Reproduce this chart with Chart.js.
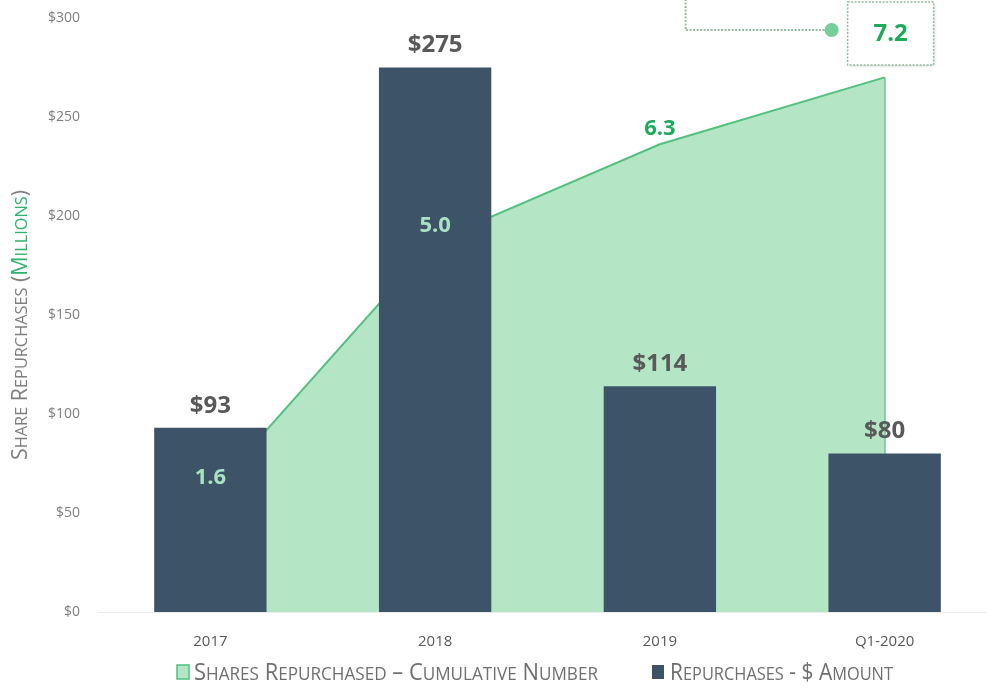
<!DOCTYPE html>
<html>
<head>
<meta charset="utf-8">
<script src="https://cdn.jsdelivr.net/npm/chart.js@4.4.1/dist/chart.umd.min.js"></script>
<style>
  html, body { margin: 0; padding: 0; background: #fff; overflow: hidden; }
  #wrap { width: 1000px; height: 688px; }
</style>
</head>
<body>
<div id="wrap"><canvas id="dataChart"></canvas></div>
<script>
const categories = ['2017', '2018', '2019', 'Q1-2020'];
const repurchaseAmounts = [93, 275, 114, 80];
const cumulativeShares = [1.6, 5.0, 6.3, 7.2];
const amountTicks = [0, 50, 100, 150, 200, 250, 300];

const BAR_COLOR = '#3d5468';
const AREA_FILL = '#b4e6c6';
const AREA_LINE = '#52c07f';
const GREEN_TEXT = '#1fa95b';
const GRAY_TEXT = '#595959';
const FONT = '"Open Sans", sans-serif';

// draws fake small caps, squeezed horizontally to a width
const drawSmallCaps = (ctx, parts, x, y, big, small, targetWidth) => {
    let pieces = [];
    parts.forEach(([text, color]) => {
        for (const ch of text) {
            const lower = ch !== ch.toUpperCase();
            pieces.push({ ch: ch.toUpperCase(), size: lower ? small : big, color: color });
        }
    });
    let total = 0;
    pieces.forEach(p => {
        ctx.font = p.size + 'px ' + FONT;
        p.w = ctx.measureText(p.ch).width;
        total += p.w;
    });
    const sx = targetWidth ? targetWidth / total : 1;
    ctx.save();
    ctx.translate(x, y);
    ctx.scale(sx, 1);
    ctx.textAlign = 'left';
    ctx.textBaseline = 'alphabetic';
    let cx = 0;
    pieces.forEach(p => {
        ctx.font = p.size + 'px ' + FONT;
        ctx.fillStyle = p.color;
        ctx.fillText(p.ch, cx, 0);
        cx += p.w;
    });
    ctx.restore();
};

const labelsPlugin = {
    id: 'labelsPlugin',
    afterDatasetsDraw(chart) {
        const ctx = chart.ctx;
        const bars = chart.getDatasetMeta(0).data;
        const pts = chart.getDatasetMeta(1).data;

        ctx.save();
        ctx.textAlign = 'center';
        ctx.textBaseline = 'middle';

        // $ amounts above bars
        ctx.font = 'bold 24px ' + FONT;
        ctx.fillStyle = GRAY_TEXT;
        bars.forEach((b, i) => {
            ctx.fillText('$' + repurchaseAmounts[i], b.x, b.y - 22);
        });

        // cumulative share numbers
        ctx.font = 'bold 22px ' + FONT;
        for (let i = 0; i < cumulativeShares.length - 1; i++) {
            const p = pts[i];
            const insideBar = p.y > bars[i].y;
            ctx.fillStyle = insideBar ? '#a9e2c0' : GREEN_TEXT;
            ctx.fillText(cumulativeShares[i].toFixed(1), p.x, p.y - 15);
        }

        // callout for the last value
        const last = pts[pts.length - 1];
        const bx = last.x - 37, by = 2, bw = 86, bh = 63;
        ctx.setLineDash([2, 1.5]);
        ctx.lineWidth = 2;
        ctx.strokeStyle = '#93bb9f';
        ctx.beginPath();
        ctx.moveTo(last.x - 53, by + 28);
        ctx.lineTo(last.x - 199, by + 28);
        ctx.lineTo(last.x - 199, -5);
        ctx.stroke();

        ctx.shadowColor = 'rgba(0,0,0,0.18)';
        ctx.shadowBlur = 3;
        ctx.shadowOffsetX = 1;
        ctx.shadowOffsetY = 1;
        ctx.fillStyle = '#fff';
        ctx.fillRect(bx, by, bw, bh);
        ctx.shadowColor = 'transparent';
        ctx.strokeStyle = '#93bb9f';
        ctx.lineWidth = 1.5;
        ctx.strokeRect(bx, by, bw, bh);
        ctx.setLineDash([]);

        ctx.fillStyle = '#74cf98';
        ctx.beginPath();
        ctx.arc(last.x - 53, by + 28, 7, 0, Math.PI * 2);
        ctx.fill();

        ctx.font = 'bold 24px ' + FONT;
        ctx.fillStyle = GREEN_TEXT;
        ctx.fillText(cumulativeShares[cumulativeShares.length - 1].toFixed(1), bx + bw / 2, by + bh / 2 + 1);
        ctx.restore();
    },
    afterDraw(chart) {
        const ctx = chart.ctx;

        // y axis title
        ctx.save();
        ctx.translate(27, 325);
        ctx.rotate(-Math.PI / 2);
        const titleParts = [['Share Repurchases (', '#7f7f7f'], ['Millions', '#2fb36b'], [')', '#7f7f7f']];
        drawSmallCaps(ctx, titleParts, -135, 0, 21, 16, 270);
        ctx.restore();

        // legend
        ctx.save();
        ctx.fillStyle = AREA_FILL;
        ctx.fillRect(177, 665, 12, 14);
        ctx.strokeStyle = AREA_LINE;
        ctx.lineWidth = 1.5;
        ctx.strokeRect(177, 665, 12, 14);
        drawSmallCaps(ctx, [['Shares Repurchased \u2013 Cumulative Number', '#6f6f6f']], 194, 680, 23, 18, 404);

        ctx.fillStyle = BAR_COLOR;
        ctx.fillRect(652, 665, 12, 14);
        drawSmallCaps(ctx, [['Repurchases - $ Amount', '#6f6f6f']], 670, 680, 23, 18, 223);
        ctx.restore();
    }
};

const data = {
    labels: categories,
    datasets: [
        {
            type: 'bar',
            label: 'Repurchases - $ Amount',
            data: repurchaseAmounts,
            backgroundColor: BAR_COLOR,
            barPercentage: 1,
            categoryPercentage: 0.5,
            yAxisID: 'y',
            order: 1
        },
        {
            type: 'line',
            label: 'Shares Repurchased - Cumulative Number',
            data: cumulativeShares,
            backgroundColor: AREA_FILL,
            borderColor: AREA_LINE,
            borderWidth: 2,
            pointRadius: 0,
            tension: 0,
            fill: 'origin',
            yAxisID: 'y2',
            order: 2
        },
        {
            type: 'line',
            label: 'edge',
            data: [
                { x: categories[categories.length - 1], y: cumulativeShares[cumulativeShares.length - 1] },
                { x: categories[categories.length - 1], y: 0 }
            ],
            borderColor: AREA_LINE,
            borderWidth: 2,
            pointRadius: 0,
            fill: false,
            yAxisID: 'y2',
            order: 2
        }
    ]
};

const config = {
    type: 'bar',
    data: data,
    options: {
        responsive: true,
        maintainAspectRatio: false,
        animation: false,
        layout: { padding: { top: 18, right: 3, left: 0, bottom: 0 } },
        plugins: {
            legend: { display: false },
            tooltip: { enabled: false }
        },
        scales: {
            x: {
                grid: { display: false },
                border: { color: '#ececec' },
                ticks: {
                    color: GRAY_TEXT,
                    font: { family: FONT, size: 15 },
                    padding: 13
                },
                afterFit: (s) => { s.height = 76; }
            },
            y: {
                min: amountTicks[0],
                max: amountTicks[amountTicks.length - 1],
                afterBuildTicks: (s) => { s.ticks = amountTicks.map(v => ({ value: v })); },
                grid: { display: false },
                border: { display: false },
                ticks: {
                    color: '#7f7f7f',
                    font: { family: FONT, size: 14 },
                    padding: 10,
                    callback: (v) => '$' + v
                },
                afterFit: (s) => {
                    s.width = 98;
                    s.paddingTop = 0;
                    s.paddingBottom = 0;
                }
            },
            y2: {
                display: false,
                min: 0,
                max: 8
            }
        }
    },
    plugins: [labelsPlugin]
};

const dataChart = new Chart(document.getElementById('dataChart'), config);
</script>
</body>
</html>
